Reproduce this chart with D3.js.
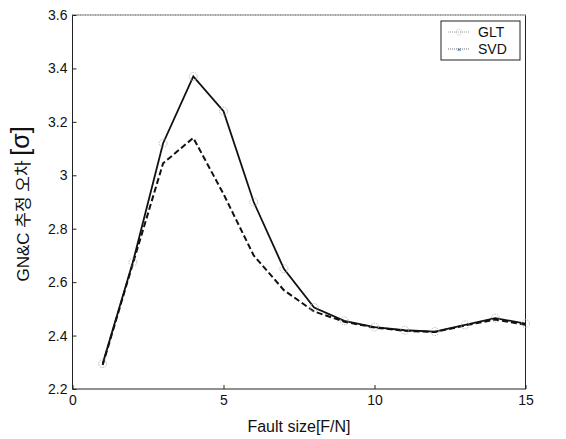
<!DOCTYPE html>
<html><head><meta charset="utf-8">
<script src="https://cdn.jsdelivr.net/npm/d3@7"></script>
<style>body{margin:0;background:#fff}svg{display:block}text{font-family:"Liberation Sans",Arial,sans-serif}</style>
</head><body><svg id="c" width="566" height="439"></svg>
<script>
const faultSize = [1,2,3,4,5,6,7,8,9,10,11,12,13,14,15];
const glt = [2.295,2.675,3.12,3.37,3.24,2.90,2.65,2.505,2.455,2.432,2.42,2.415,2.44,2.465,2.445];
const svd = [2.29,2.67,3.045,3.14,2.93,2.70,2.57,2.49,2.452,2.43,2.418,2.413,2.438,2.46,2.44];
const xTicks = [0,5,10,15];
const yTicks = [2.2,2.4,2.6,2.8,3,3.2,3.4,3.6];
const seriesNames = ["GLT","SVD"];

const svg = d3.select("#c");
const L=72.5,R=525.5,T=15,B=389;
const x = d3.scaleLinear().domain([0,15]).range([L,R]);
const y = d3.scaleLinear().domain([2.2,3.6]).range([B,T]);

// box
svg.append("rect").attr("x",L).attr("y",T).attr("width",R-L).attr("height",B-T)
  .attr("fill","none").attr("stroke","#222").attr("stroke-width",1);
svg.append("line").attr("x1",L).attr("x2",R).attr("y1",T).attr("y2",T)
  .attr("stroke","#fff").attr("stroke-width",1.2);
svg.append("line").attr("x1",L).attr("x2",R).attr("y1",T).attr("y2",T)
  .attr("stroke","#777").attr("stroke-dasharray","1,1.5");

const xa = svg.append("g").attr("transform",`translate(0,${B})`)
  .call(d3.axisBottom(x).tickValues(xTicks).tickSize(-4).tickPadding(10).tickFormat(d3.format("d")));
const ya = svg.append("g").attr("transform",`translate(${L},0)`)
  .call(d3.axisLeft(y).tickValues(yTicks).tickSize(-4).tickPadding(5).tickFormat(d=>String(+d.toFixed(1))));
[xa,ya].forEach(g=>{g.select(".domain").remove();g.selectAll("line").attr("stroke","#222");
  g.selectAll("text").attr("fill","#111").style("font-size","14px");});
xa.selectAll("text").attr("dy","0.45em");

const line = d3.line().x((d,i)=>x(faultSize[i])).y(d=>y(d));
svg.append("path").datum(svd).attr("d",line).attr("fill","none").attr("stroke","#111")
  .attr("stroke-width",2).attr("stroke-dasharray","6,3");
svg.append("path").datum(glt).attr("d",line).attr("fill","none").attr("stroke","#111")
  .attr("stroke-width",1.8);
svg.selectAll(".m").data(glt).enter().append("circle")
  .attr("cx",(d,i)=>x(faultSize[i])).attr("cy",d=>y(d)).attr("r",4)
  .attr("fill","none").attr("stroke","#aaa").attr("stroke-width",0.8).attr("stroke-dasharray","1.5,1");

// legend
const lg = svg.append("g");
lg.append("rect").attr("x",441).attr("y",21).attr("width",79).attr("height",39)
  .attr("fill","#fff").attr("stroke","#222");
lg.append("line").attr("x1",448).attr("x2",470).attr("y1",32).attr("y2",32).attr("stroke","#999").attr("stroke-dasharray","1,1");
lg.append("circle").attr("cx",459).attr("cy",32).attr("r",3).attr("fill","none").attr("stroke","#bbb").attr("stroke-dasharray","1,1");
lg.append("line").attr("x1",448).attr("x2",470).attr("y1",49).attr("y2",49).attr("stroke","#777").attr("stroke-dasharray","1,1");
lg.append("text").attr("x",459).attr("y",52).attr("text-anchor","middle").style("font-size","8px").attr("fill","#555").text("×");
lg.selectAll(".lt").data(seriesNames).enter().append("text")
  .attr("x",478).attr("y",(d,i)=>37+i*17).style("font-size","14px").attr("fill","#111").text(d=>d);

// axis titles
svg.append("text").attr("x",x(7.5)).attr("y",432).attr("text-anchor","middle")
  .style("font-size","16px").attr("fill","#111").text("Fault size[F/N]");
const yt = svg.append("text").attr("transform","translate(29,204) rotate(-90)").attr("text-anchor","middle").attr("fill","#111");
yt.append("tspan").style("font-size","17px").style("font-family","'Liberation Sans','Noto Sans CJK KR',sans-serif").text("GN&C 추정 오차 ");
yt.append("tspan").style("font-size","25px").text("[σ]");
</script></body></html>
